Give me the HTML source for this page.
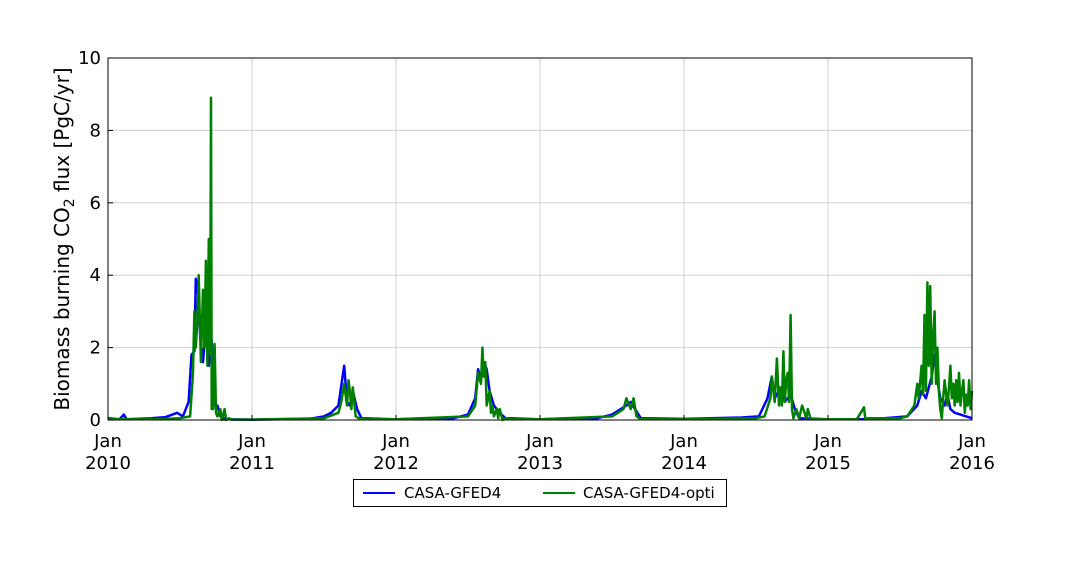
<!DOCTYPE html>
<html><head><meta charset="utf-8"><style>
body{margin:0;background:#fff;font-family:"Liberation Sans","DejaVu Sans",sans-serif}
svg text{font-family:"DejaVu Sans","Liberation Sans",sans-serif}
</style></head><body>
<svg id="chart" width="1080" height="576">
<g id="grid"></g><g id="series"></g><g id="axes"></g>
</svg>
<script>
const tickYears=["2010","2011","2012","2013","2014","2015","2016"];
const yTicks=[0,2,4,6,8,10];
const blueT=[2010.0,2010.08,2010.11,2010.13,2010.3,2010.4,2010.48,2010.52,2010.56,2010.58,2010.6,2010.61,2010.63,2010.64,2010.66,2010.68,2010.70,2010.72,2010.74,2010.76,2010.78,2010.82,2011.0,2011.4,2011.5,2011.55,2011.6,2011.64,2011.66,2011.68,2011.7,2011.73,2011.76,2012.0,2012.4,2012.5,2012.55,2012.57,2012.59,2012.61,2012.63,2012.65,2012.68,2012.72,2012.76,2013.0,2013.4,2013.5,2013.6,2013.63,2013.66,2013.7,2014.0,2014.4,2014.52,2014.58,2014.61,2014.63,2014.66,2014.7,2014.74,2014.77,2014.8,2015.0,2015.3,2015.55,2015.62,2015.65,2015.68,2015.72,2015.74,2015.76,2015.78,2015.81,2015.83,2015.85,2015.88,2015.92,2015.96,2016.0];
const blueV=[0.05,0.02,0.15,0.02,0.05,0.08,0.2,0.1,0.5,1.8,1.9,3.9,3.4,2.3,1.6,2.6,1.5,2.2,0.4,0.4,0.1,0.02,0.01,0.03,0.1,0.2,0.4,1.5,0.5,0.4,0.8,0.3,0.05,0.02,0.05,0.15,0.6,1.4,1.1,1.6,1.4,0.8,0.4,0.2,0.05,0.02,0.05,0.15,0.4,0.5,0.3,0.05,0.03,0.07,0.1,0.6,1.2,0.6,0.8,0.5,0.7,0.3,0.05,0.02,0.02,0.1,0.4,0.8,0.6,1.2,1.8,1.1,0.6,0.4,0.7,0.3,0.2,0.15,0.1,0.05];
const greenT=[2010.0,2010.4,2010.5,2010.57,2010.59,2010.6,2010.61,2010.62,2010.63,2010.645,2010.66,2010.67,2010.68,2010.69,2010.70,2010.71,2010.715,2010.72,2010.73,2010.74,2010.75,2010.76,2010.78,2010.79,2010.81,2010.82,2010.84,2010.86,2011.0,2011.5,2011.6,2011.62,2011.64,2011.66,2011.67,2011.68,2011.69,2011.7,2011.72,2011.74,2011.78,2012.0,2012.5,2012.55,2012.57,2012.59,2012.6,2012.61,2012.62,2012.63,2012.65,2012.66,2012.67,2012.68,2012.7,2012.71,2012.72,2012.74,2012.76,2012.8,2013.0,2013.5,2013.58,2013.6,2013.63,2013.65,2013.67,2013.7,2014.0,2014.5,2014.56,2014.6,2014.61,2014.63,2014.645,2014.66,2014.67,2014.68,2014.69,2014.7,2014.71,2014.72,2014.73,2014.74,2014.75,2014.76,2014.78,2014.8,2014.82,2014.85,2014.86,2014.88,2015.0,2015.2,2015.25,2015.26,2015.28,2015.4,2015.5,2015.55,2015.6,2015.62,2015.63,2015.65,2015.66,2015.67,2015.68,2015.69,2015.7,2015.71,2015.72,2015.73,2015.74,2015.75,2015.76,2015.77,2015.78,2015.79,2015.8,2015.81,2015.83,2015.84,2015.85,2015.86,2015.87,2015.88,2015.89,2015.9,2015.91,2015.92,2015.93,2015.94,2015.95,2015.96,2015.97,2015.98,2015.99,2016.0];
const greenV=[0.02,0.03,0.05,0.1,1.3,3.0,2.0,2.7,4.0,1.6,3.6,2.0,4.4,1.5,5.0,1.8,8.9,0.3,0.3,2.1,0.2,0.1,0.3,0.0,0.3,0.0,0.05,0.01,0.01,0.05,0.2,0.5,1.0,0.4,1.1,0.8,0.3,0.9,0.1,0.05,0.02,0.02,0.1,0.4,1.3,1.0,2.0,1.2,1.6,0.4,0.8,0.2,0.4,0.1,0.3,0.05,0.3,0.0,0.05,0.02,0.02,0.1,0.3,0.6,0.3,0.6,0.1,0.02,0.02,0.05,0.1,0.6,1.2,0.5,1.7,0.4,0.9,0.4,1.9,0.5,1.1,1.3,0.5,2.9,0.3,0.05,0.3,0.05,0.4,0.05,0.3,0.02,0.02,0.02,0.35,0.02,0.05,0.05,0.05,0.1,0.4,1.0,0.6,1.5,0.7,2.9,0.8,3.8,1.5,3.7,1.0,2.3,3.0,1.0,2.0,0.8,0.3,0.05,0.6,1.1,0.4,0.9,1.5,0.6,1.0,0.4,1.1,0.5,1.3,0.4,0.8,1.1,0.2,0.7,0.4,1.1,0.3,0.8,0.05,0.1];

const L=108,R=972,T=58,B=420;
const xS=t=>L+(t-2010)/6*(R-L);
const yS=v=>B-v/10*(B-T);
const NS="http://www.w3.org/2000/svg";
function mk(tag,attrs,parent){const e=document.createElementNS(NS,tag);for(const k in attrs)e.setAttribute(k,attrs[k]);parent.appendChild(e);return e;}
const grid=document.getElementById('grid'),axes=document.getElementById('axes'),ser=document.getElementById('series');
tickYears.forEach((yr,i)=>{
  const x=xS(+yr);
  if(i>0&&i<tickYears.length-1){const g=mk('line',{x1:x,x2:x,y1:T,y2:B,stroke:'#d0d0d0','stroke-width':1},grid);
  
  }
  const t1=mk('text',{x:x,y:447,'text-anchor':'middle','font-size':18},axes);t1.textContent='Jan';
  
  
  const t2=mk('text',{x:x,y:469,'text-anchor':'middle','font-size':18},axes);t2.textContent=yr;
  
  
  mk('line',{x1:x,x2:x,y1:B,y2:B-5,stroke:'#000'},axes);
});
yTicks.forEach((v,i)=>{
  const y=yS(v);
  if(i>0&&i<yTicks.length-1){const g=mk('line',{x1:L,x2:R,y1:y,y2:y,stroke:'#d0d0d0','stroke-width':1},grid);
  
  }
  const t=mk('text',{x:L-7,y:y+6,'text-anchor':'end','font-size':18},axes);t.textContent=v;
  
  
  mk('line',{x1:L,x2:L+5,y1:y,y2:y,stroke:'#000'},axes);
});
function path(ts,vs,color,name){
  const d=ts.map((t,i)=>(i?'L':'M')+xS(t).toFixed(1)+','+yS(vs[i]).toFixed(1)).join('');
  const p=mk('path',{d:d,fill:'none',stroke:color,'stroke-width':2.5,'stroke-linejoin':'round'},ser);
  
  
}
path(blueT,blueV,'#0000ff','casa-gfed4-line');
path(greenT,greenV,'#008000','casa-gfed4-opti-line');
const fr=mk('rect',{x:L,y:T,width:R-L,height:B-T,fill:'none',stroke:'#000','stroke-width':1},axes);


const yt=mk('text',{x:0,y:0,'text-anchor':'middle','font-size':20,transform:'translate(69,239) rotate(-90)'},axes);
yt.innerHTML='Biomass burning CO<tspan font-size="14" dy="5">2</tspan><tspan dy="-5"> flux [PgC/yr]</tspan>';


const lg=mk('g',{},axes);


mk('rect',{x:353.5,y:479.5,width:373,height:27,fill:'#fff',stroke:'#000'},lg);
mk('line',{x1:363,x2:395,y1:493,y2:493,stroke:'#0000ff','stroke-width':2},lg);
const l1=mk('text',{x:404,y:498,'font-size':15},lg);l1.textContent='CASA-GFED4';


mk('line',{x1:543,x2:575,y1:493,y2:493,stroke:'#008000','stroke-width':2},lg);
const l2=mk('text',{x:583,y:498,'font-size':15},lg);l2.textContent='CASA-GFED4-opti';


</script>
</body></html>
